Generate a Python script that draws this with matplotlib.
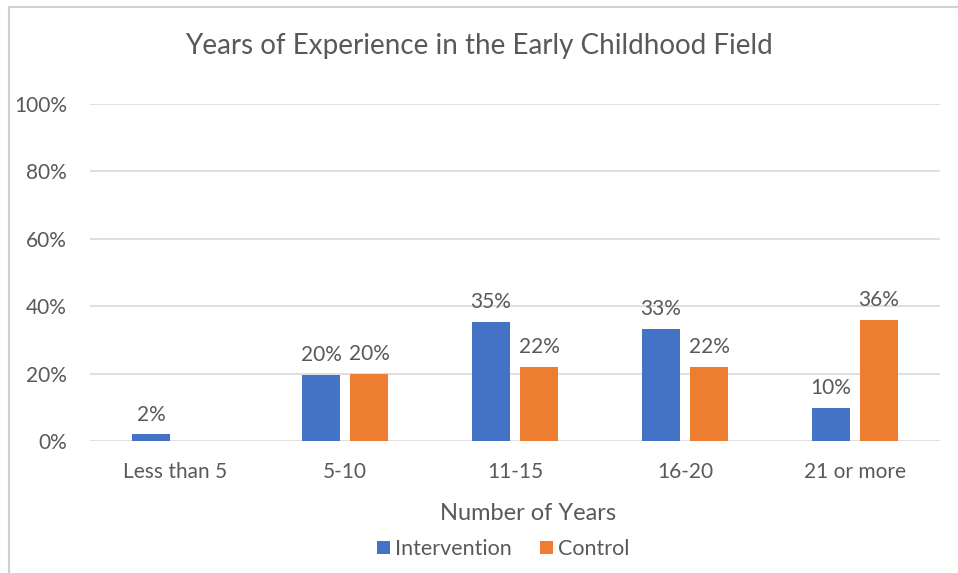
import matplotlib
matplotlib.use("Agg")
import matplotlib.pyplot as plt
import numpy as np
from matplotlib.patches import Patch
from matplotlib.lines import Line2D

categories = ["Less than 5", "5-10", "11-15", "16-20", "21 or more"]
intervention = [0.02, 0.196, 0.353, 0.333, 0.098]
control = [np.nan, 0.20, 0.22, 0.22, 0.36]
series_names = ["Intervention", "Control"]
y_ticks = [0.0, 0.2, 0.4, 0.6, 0.8, 1.0]

BLUE = "#4472C4"
ORANGE = "#ED7D31"
TEXT = "#595959"
GRID = "#D9D9D9"

plt.rcParams["font.family"] = ["Lato", "DejaVu Sans"]

W, H = 958, 573
fig = plt.figure(figsize=(W / 100, H / 100), dpi=100)
ax = fig.add_axes([90 / W, (H - 441) / H, (940 - 90) / W, (441 - 104) / H])

x = np.arange(len(categories))
width = 0.224
offset = 0.141
b1 = ax.bar(x - offset, intervention, width, color=BLUE, zorder=3)
b2 = ax.bar(x + offset, control, width, color=ORANGE, zorder=3)

for bars, vals in ((b1, intervention), (b2, control)):
    for rect, v in zip(bars, vals):
        if np.isnan(v):
            continue
        ax.annotate(f"{v:.0%}", (rect.get_x() + rect.get_width() / 2, v),
                    xytext=(0, 7), textcoords="offset points",
                    ha="center", va="bottom", fontsize=15, color=TEXT)

ax.set_xlim(-0.5, len(categories) - 0.5)
ax.set_ylim(0, 1.0)
ax.set_yticks(y_ticks)
ax.set_yticklabels([f"{t:.0%}" for t in y_ticks])
ax.set_xticks(x)
ax.set_xticklabels(categories)
ax.tick_params(axis="both", length=0, labelsize=15, colors=TEXT)
ax.tick_params(axis="y", pad=16.5)
ax.tick_params(axis="x", pad=15)
ax.grid(axis="y", color=GRID, linewidth=1.2, zorder=0)
for s in ax.spines.values():
    s.set_visible(False)

fig.text(528 / W, (H - 514) / H, "Number of Years", ha="center", va="center",
         fontsize=17, color=TEXT)
fig.text(0.5, (H - 46) / H, "Years of Experience in the Early Childhood Field",
         ha="center", va="center", fontsize=20, color=TEXT)

handles = [Patch(facecolor=BLUE), Patch(facecolor=ORANGE)]
fig.legend(handles, series_names, loc="center", bbox_to_anchor=(503 / W, (H - 549) / H),
           ncol=2, frameon=False, fontsize=15.5, labelcolor=TEXT,
           handlelength=0.6, handleheight=0.6, handletextpad=0.25, columnspacing=1.3)

# outer chart frame
fig.add_artist(Line2D([8.5 / W, 8.5 / W], [0, (H - 6.5) / H], color="#D0D0D0",
                      linewidth=1.5, transform=fig.transFigure))
fig.add_artist(Line2D([8.5 / W, 1], [(H - 6.5) / H, (H - 6.5) / H], color="#D0D0D0",
                      linewidth=1.5, transform=fig.transFigure))

fig.savefig("out.png", dpi=100)
